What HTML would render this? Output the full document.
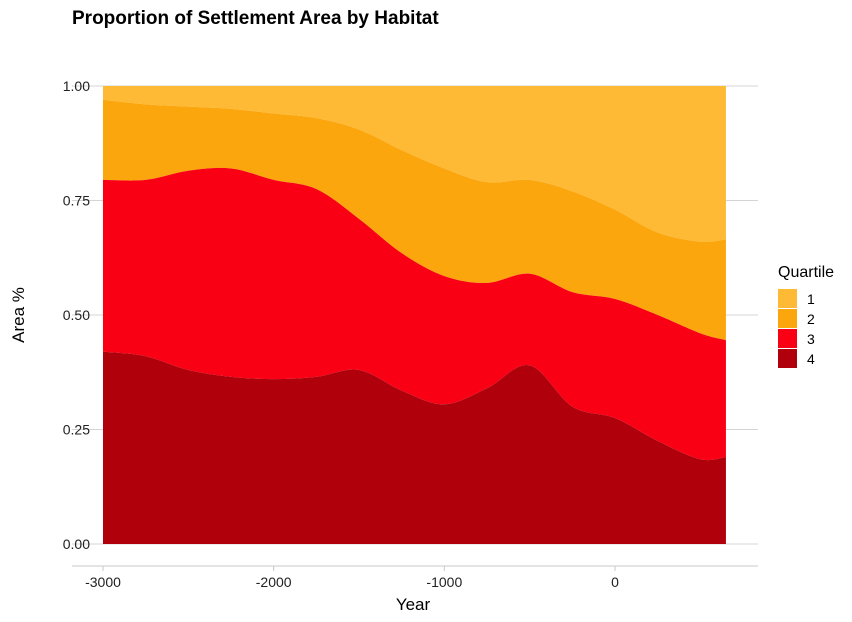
<!DOCTYPE html>
<html><head><meta charset="utf-8">
<style>
html,body{margin:0;padding:0;background:#fff;}
svg{display:block;font-family:"Liberation Sans",Arial,sans-serif;}
</style></head>
<body>
<svg id="chart" width="852" height="622" viewBox="0 0 852 622">
<text x="72" y="24" font-size="19" font-weight="bold" fill="#000">Proportion of Settlement Area by Habitat</text>
<g id="grid"></g>
<g id="areas"></g>
<g id="axes"></g>
<text x="413" y="610" font-size="17" text-anchor="middle" fill="#000">Year</text>
<text transform="translate(24,315) rotate(-90)" font-size="17" text-anchor="middle" fill="#000">Area %</text>
<g id="legend">
<text x="778" y="277" font-size="16" fill="#000">Quartile</text>
</g>
</svg>
<script>
const years = [-3000,-2750,-2500,-2250,-2000,-1750,-1500,-1250,-1000,-750,-500,-250,0,250,500,650];
const q4Top = [0.42,0.41,0.38,0.365,0.36,0.365,0.38,0.335,0.305,0.34,0.39,0.30,0.275,0.225,0.185,0.19];
const q3Top = [0.795,0.795,0.815,0.82,0.795,0.775,0.71,0.635,0.585,0.57,0.59,0.55,0.535,0.5,0.46,0.445];
const q2Top = [0.97,0.96,0.955,0.95,0.94,0.93,0.905,0.86,0.82,0.79,0.795,0.77,0.73,0.68,0.66,0.665];
const q1Top = [1,1,1,1,1,1,1,1,1,1,1,1,1,1,1,1];
const xTicks = [-3000,-2000,-1000,0];
const yTicks = [0,0.25,0.5,0.75,1];
const yTickLabels = ["0.00","0.25","0.50","0.75","1.00"];
const quartiles = ["1","2","3","4"];
const colors = ["#feba35","#fca60e","#fa0014","#b0000b"];

const NS="http://www.w3.org/2000/svg";
const xs = v => 615 + v*0.17067;
const ys = v => 544 - v*458;
function mk(tag, attrs, parent){const e=document.createElementNS(NS,tag);for(const k in attrs)e.setAttribute(k,attrs[k]);parent.appendChild(e);return e;}
function smooth(pts){
  let d="";
  for(let i=0;i<pts.length-1;i++){
    const p0=pts[Math.max(i-1,0)],p1=pts[i],p2=pts[i+1],p3=pts[Math.min(i+2,pts.length-1)];
    const c1=[p1[0]+(p2[0]-p0[0])/6,p1[1]+(p2[1]-p0[1])/6];
    const c2=[p2[0]-(p3[0]-p1[0])/6,p2[1]-(p3[1]-p1[1])/6];
    d+=` C${c1[0]},${c1[1]} ${c2[0]},${c2[1]} ${p2[0]},${p2[1]}`;
  }
  return d;
}
const grid=document.getElementById('grid');
yTicks.forEach((t,i)=>{
  const l=mk('line',{x1:72,x2:758,y1:ys(t),y2:ys(t),stroke:'#d4d4d4','stroke-width':1},grid);
  
  
});
const areas=document.getElementById('areas');
const tops=[q1Top,q2Top,q3Top,q4Top];
const zeros=years.map(()=>0);
const bottoms=[q2Top,q3Top,q4Top,zeros];
tops.forEach((top,k)=>{
  const tp=years.map((y,i)=>[xs(y),ys(top[i])]);
  const bp=years.map((y,i)=>[xs(y),ys(bottoms[k][i])]).reverse();
  const d=`M${tp[0][0]},${tp[0][1]}`+smooth(tp)+` L${bp[0][0]},${bp[0][1]}`+smooth(bp)+" Z";
  const p=mk('path',{d:d,fill:colors[k]},areas);
  
  
});
const axes=document.getElementById('axes');
const ax=mk('line',{x1:72,x2:758,y1:566,y2:566,stroke:'#c8c8c8','stroke-width':1},axes);


xTicks.forEach(t=>{
  const tk=mk('line',{x1:xs(t),x2:xs(t),y1:566,y2:571,stroke:'#c8c8c8'},axes);
  
  
  const tx=mk('text',{x:xs(t),y:587,'font-size':14,'text-anchor':'middle',fill:'#222'},axes);
  tx.textContent=String(t);
  
  
});
yTicks.forEach((t,i)=>{
  const tx=mk('text',{x:90,y:ys(t)+5,'font-size':14,'text-anchor':'end',fill:'#222'},axes);
  tx.textContent=yTickLabels[i];
  
  
});
const legend=document.getElementById('legend');
quartiles.forEach((q,i)=>{
  const r=mk('rect',{x:778,y:289+i*20,width:19,height:19,fill:colors[i]},legend);
  
  
  const t=mk('text',{x:807,y:304+i*20,'font-size':14,fill:'#000'},legend);
  t.textContent=q;
  
  
});
</script>
</body></html>
